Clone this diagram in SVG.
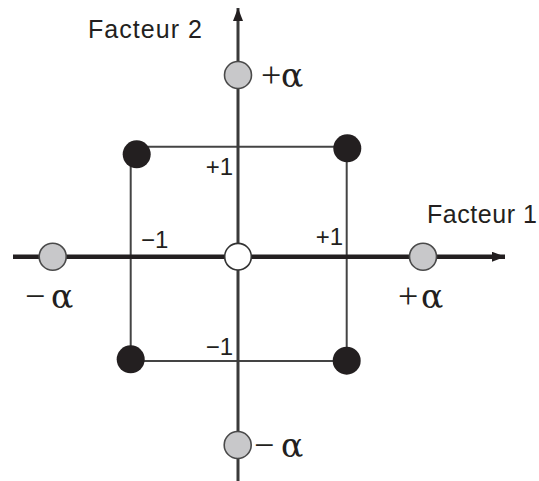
<svg xmlns="http://www.w3.org/2000/svg" width="539" height="481" viewBox="0 0 539 481">
<defs>
<style>
.lbl{font-family:"Liberation Sans",Arial,sans-serif;font-size:24px;fill:#231f20}
.ax{font-family:"Liberation Sans",Arial,sans-serif;font-size:25px;fill:#231f20}
.al{font-family:"Liberation Serif","Times New Roman",serif;font-size:36px;fill:#231f20}
.a{font-family:"DejaVu Serif","Liberation Serif",serif;font-size:33px}
.sq{stroke:#444;stroke-width:2;fill:none}
.dot{fill:#231f20}
.gray{fill:#c8c8ca;stroke:#4a4a4a;stroke-width:1.6}
.white{fill:#fff;stroke:#333;stroke-width:1.6}
</style>
<marker id="arr" viewBox="0 0 13 10" refX="13" refY="5" markerWidth="13" markerHeight="10" markerUnits="userSpaceOnUse" orient="auto">
<path d="M0,0 L13,5 L0,10 Z" fill="#231f20"/>
</marker>
</defs>
<rect width="539" height="481" fill="#fff"/>
<g id="connectors">
<line class="sq" x1="137" y1="146.7" x2="347" y2="146.7"/>
<line class="sq" x1="130.7" y1="155" x2="130.7" y2="361"/>
<line class="sq" x1="130.7" y1="361" x2="346.7" y2="361"/>
<line class="sq" x1="346.7" y1="148" x2="346.7" y2="361"/>
<line x1="238" y1="481" x2="238" y2="8" stroke="#3a3a3a" stroke-width="3" marker-end="url(#arr)"/>
<line x1="13" y1="256.7" x2="505" y2="256.7" stroke="#231f20" stroke-width="4.5" marker-end="url(#arr)"/>
</g>
<g id="axis-labels">
<text class="ax" x="88" y="38" textLength="114">Facteur 2</text>
<text class="ax" x="427" y="223" textLength="110">Facteur 1</text>
</g>
<g id="tick-labels">
<text class="lbl" x="233" y="175" text-anchor="end">+1</text>
<text class="lbl" x="343" y="245" text-anchor="end">+1</text>
<text class="lbl" x="141" y="248">−1</text>
<text class="lbl" x="233" y="355" text-anchor="end">−1</text>
</g>
<g id="node-top-left"><circle class="dot" cx="136.7" cy="154.3" r="14"/></g>
<g id="node-top-right"><circle class="dot" cx="347.3" cy="148.3" r="14"/></g>
<g id="node-bottom-left"><circle class="dot" cx="130.7" cy="359.3" r="14"/></g>
<g id="node-bottom-right"><circle class="dot" cx="346.7" cy="360.7" r="14"/></g>
<g id="node-center"><circle class="white" cx="238" cy="256.7" r="13.3"/></g>
<g id="node-alpha-top">
<circle class="gray" cx="238" cy="75" r="13.5"/>
<text class="al" x="261"  y="87">+<tspan class="a" x="281">α</tspan></text>
</g>
<g id="node-alpha-left">
<circle class="gray" cx="52.7" cy="256.7" r="13.5"/>
<text class="al" x="25" y="308">−<tspan class="a" x="51">α</tspan></text>
</g>
<g id="node-alpha-right">
<circle class="gray" cx="423" cy="256.7" r="13.5"/>
<text class="al" x="398" y="308">+<tspan class="a" x="421">α</tspan></text>
</g>
<g id="node-alpha-bottom">
<circle class="gray" cx="237.7" cy="445" r="13.5"/>
<text class="al" x="254" y="457">−<tspan class="a" x="281">α</tspan></text>
</g>
</svg>
